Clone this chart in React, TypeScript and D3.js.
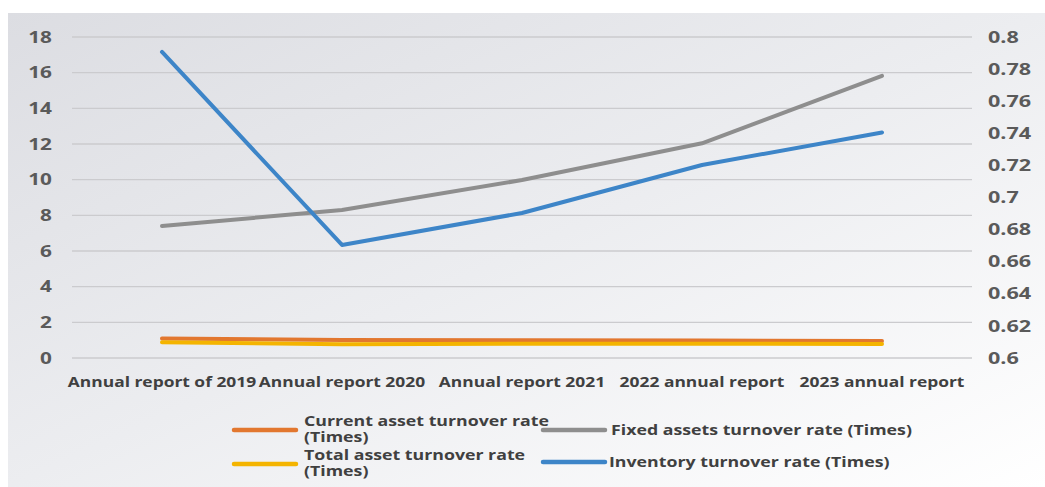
import React from "react";
import * as d3 from "d3";

const categories = [
  "Annual report of 2019",
  "Annual report 2020",
  "Annual report 2021",
  "2022 annual report",
  "2023 annual report",
];
const currentAsset = [1.1, 1.01, 0.99, 0.98, 0.96];
const totalAsset = [0.88, 0.77, 0.8, 0.8, 0.79];
const fixedAssets = [7.4, 8.3, 9.98, 12.04, 15.82];
const inventory = [17.16, 6.34, 8.13, 10.82, 12.65];
const leftTicks = [0, 2, 4, 6, 8, 10, 12, 14, 16, 18];
const rightTicks = [0.6, 0.62, 0.64, 0.66, 0.68, 0.7, 0.72, 0.74, 0.76, 0.78, 0.8];

const series = [
  { name: "Current asset turnover rate (Times)", values: currentAsset, color: "#E2772F" },
  { name: "Total asset turnover rate (Times)", values: totalAsset, color: "#F4B400" },
  { name: "Fixed assets turnover rate (Times)", values: fixedAssets, color: "#8E8E8E" },
  { name: "Inventory turnover rate (Times)", values: inventory, color: "#3D85C8" },
];

const W = 1045;
const H = 487;
const plotLeft = 72;
const plotRight = 972;
const plotTop = 37;
const plotBottom = 358;
const FONT = "'Open Sans', 'Noto Sans', sans-serif";

function SText(props: {
  x: number;
  y: number;
  sx: number;
  anchor?: string;
  size: number;
  weight: number;
  fill: string;
  children: React.ReactNode;
}) {
  return (
    <text
      transform={`translate(${props.x},${props.y}) scale(${props.sx},1)`}
      dy="0.35em"
      textAnchor={props.anchor || "start"}
      fontSize={props.size}
      fontWeight={props.weight}
      fill={props.fill}
    >
      {props.children}
    </text>
  );
}

export default function App() {
  const x = d3.scaleBand().domain(categories).range([plotLeft, plotRight]);
  const yL = d3.scaleLinear().domain([0, 18]).range([plotBottom, plotTop]);
  const yR = d3.scaleLinear().domain([0.6, 0.8]).range([plotBottom, plotTop]);
  const cx = (c: string) => (x(c) as number) + x.bandwidth() / 2;
  const line = d3
    .line<number>()
    .x((_, i) => cx(categories[i]))
    .y((d) => yL(d));

  const legendItems = [
    { s: series[0], sx: 234, tx: 304, lines: ["Current asset turnover rate", "(Times)"], y: 429 },
    { s: series[2], sx: 543, tx: 611, lines: ["Fixed assets turnover rate (Times)"], y: 430 },
    { s: series[1], sx: 234, tx: 304, lines: ["Total asset turnover rate", "(Times)"], y: 463 },
    { s: series[3], sx: 543, tx: 609, lines: ["Inventory turnover rate (Times)"], y: 462 },
  ];

  return (
    <svg
      width={W}
      height={H}
      style={{ position: "absolute", left: 0, top: 0, display: "block" }}
      fontFamily={FONT}
    >
      <defs>
        <linearGradient id="bg" x1="0" y1="0" x2="1" y2="1">
          <stop offset="0" stopColor="#dcdde2" />
          <stop offset="0.5" stopColor="#ecedf0" />
          <stop offset="1" stopColor="#ffffff" />
        </linearGradient>
        <linearGradient id="topEdge" x1="0" y1="0" x2="1" y2="0">
          <stop offset="0" stopColor="#c4c4c8" />
          <stop offset="0.85" stopColor="#d0d0d4" />
          <stop offset="1" stopColor="#ffffff" />
        </linearGradient>
        <linearGradient id="leftEdge" x1="0" y1="0" x2="0" y2="1">
          <stop offset="0" stopColor="#c4c4c8" />
          <stop offset="1" stopColor="#dcdcdf" />
        </linearGradient>
      </defs>
      <rect x={0} y={0} width={W} height={H} fill="#ffffff" />
      <rect x={8} y={13} width={W - 8} height={H - 13} fill="url(#bg)" />
      <line x1={8} x2={W} y1={13.5} y2={13.5} stroke="url(#topEdge)" strokeWidth={1.5} />
      <line x1={8.5} x2={8.5} y1={13} y2={H} stroke="url(#leftEdge)" strokeWidth={1.5} />

      {leftTicks.map((t) => (
        <line
          key={"g" + t}
          x1={plotLeft}
          x2={plotRight}
          y1={yL(t)}
          y2={yL(t)}
          stroke="#cbcbce"
          strokeWidth={1.3}
        />
      ))}

      {leftTicks.map((t) => (
        <SText key={"l" + t} x={52} y={yL(t)} sx={1.3} anchor="end" size={16} weight={700} fill="#5a5a5a">
          {t}
        </SText>
      ))}
      {rightTicks.map((t) => (
        <SText key={"r" + t} x={988} y={yR(t)} sx={1.35} anchor="start" size={16} weight={700} fill="#5a5a5a">
          {d3.format("~g")(t)}
        </SText>
      ))}

      {categories.map((c) => (
        <SText key={c} x={cx(c)} y={382} sx={1.16} anchor="middle" size={15} weight={700} fill="#404040">
          {c}
        </SText>
      ))}

      {series.map((s) => (
        <path
          key={s.name}
          d={line(s.values) || ""}
          fill="none"
          stroke={s.color}
          strokeWidth={4}
          strokeLinecap="round"
          strokeLinejoin="round"
        />
      ))}

      {legendItems.map((it) => (
        <g key={it.s.name}>
          <line
            x1={it.sx}
            x2={it.sx + 62}
            y1={it.lines.length === 1 ? it.y : it.y + 1}
            y2={it.lines.length === 1 ? it.y : it.y + 1}
            stroke={it.s.color}
            strokeWidth={4.5}
            strokeLinecap="round"
          />
          {it.lines.map((ln, i) => (
            <SText
              key={ln}
              x={it.tx}
              y={it.y + (it.lines.length === 1 ? 0 : i === 0 ? -8 : 8)}
              sx={1.25}
              size={14.2}
              weight={700}
              fill="#404040"
            >
              {ln}
            </SText>
          ))}
        </g>
      ))}
    </svg>
  );
}
